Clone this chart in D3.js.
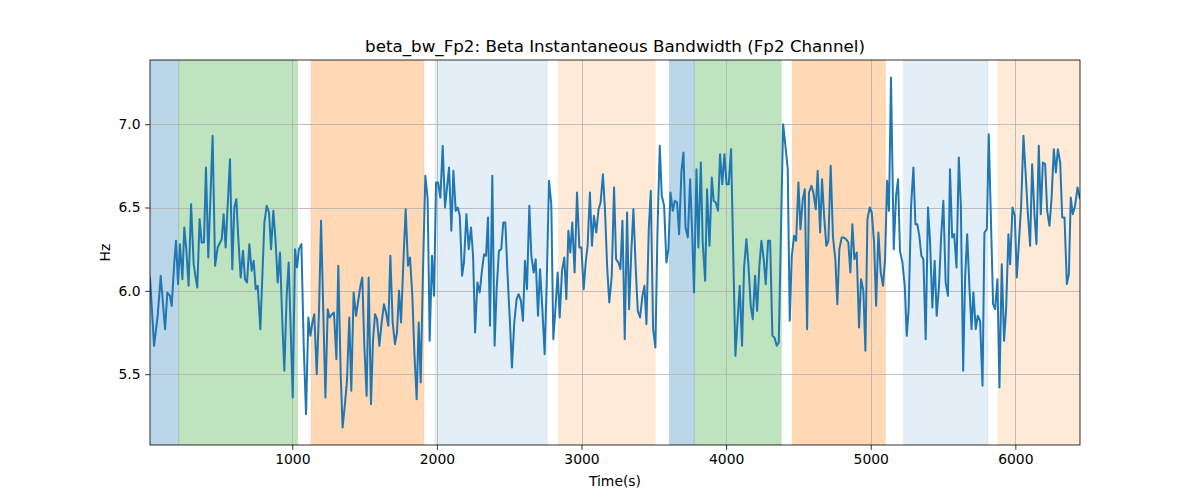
<!DOCTYPE html>
<html>
<head>
<meta charset="utf-8">
<script src="https://cdn.jsdelivr.net/npm/d3@7"></script>
<style>
  html, body { margin: 0; padding: 0; background: #fff; }
  svg { display: block; font-family: "DejaVu Sans", sans-serif; }
</style>
</head>
<body>
<svg id="chart" width="1200" height="500"></svg>
<script>
const times = [
  16,44,69,90,120,136,154,166,184,196,210,223,240,253,267,283,300,318,330,343,359,373,389,403,419,449,466,484,500,512,525,539,569,585,599,613,627,643,659,673,687,703,719,733,747,761,779,
  807,823,839,853,869,885,899,915,931,945,961,975,989,1003,1019,1033,1046,1063,1079,1095,1111,1125,1139,1152,1169,1185,1199,1215,1229,1245,1258,1275,1288,1305,1318,1335,1348,1365,1378,1394,1408,1424,1441,1454,1471,1484,1498,1514,1528,1544,1558,1572,
  1586,1602,1618,1634,1648,1664,1678,1694,1710,1724,1738,1752,1768,1784,1800,1814,1830,1844,1860,1874,1888,1904,1920,1936,1950,1966,1980,1994,2008,2024,2040,2056,2070,2084,2100,2114,2130,2144,2158,2174,2187,2204,2220,2236,2250,2264,2280,2296,2310,2326,2340,2353,2367,
  2383,2399,2413,2429,2445,2459,2473,2489,2505,2519,2535,2551,2565,2581,2595,2609,2623,2639,2653,2669,2683,2699,2713,2729,2745,2759,2775,2791,2805,2821,2835,2849,2865,2881,2895,2909,2922,2936,2952,2969,2985,2999,3015,3029,3042,3058,3072,3086,3102,3118,3132,3148,3162,3178,3192,
  3209,3225,3239,3255,3269,3283,3299,3315,3329,3345,3359,3375,3389,3405,3421,3435,3449,3465,3479,3495,3511,3525,3541,3555,3571,3587,3601,3615,3631,3645,3661,3675,3691,3705,3719,3735,3751,3765,3778,3795,3808,3825,3838,3855,3868,3885,3901,3914,3928,3944,
  3958,3973,3988,4003,4018,4034,4064,4094,4110,4124,4140,4154,4170,4184,4200,4214,4230,4244,4260,4274,4290,4304,4320,4334,4350,4364,4394,4410,4426,4440,4454,4470,4484,4500,4514,4530,4544,4560,4573,4590,4603,4620,4633,4650,4663,4679,4693,4707,4723,4739,4755,4769,
  4783,4799,4815,4829,4845,4859,4873,4887,4903,4919,4933,4949,4963,4977,4993,5007,5023,5037,5053,5069,5085,5099,5113,5126,5140,5159,5175,5189,5202,5219,5235,5249,5262,5279,5295,5309,5322,5336,5350,5364,5380,5396,5410,5426,5442,5456,5472,5486,5502,5518,5534,5548,
  5563,5577,5593,5609,5623,5639,5653,5667,5683,5697,5710,5726,5740,5756,5773,5786,5803,5816,5846,5860,5876,5890,5906,5922,5936,5952,5964,5980,5996,6010,6026,6040,6056,6072,6086,6102,6116,6132,6146,6162,6176,6190,6206,6220,6236,6250,6266,6280,6294,6310,6324,6340,6356,6370,6383,6397,6413,6430,6447
];
const bandwidth = [
  6.08,5.67,5.85,6.09,5.77,5.99,5.97,5.91,6.17,6.30,6.04,6.28,6.07,6.38,6.25,6.03,6.52,6.16,6.09,6.02,6.43,6.29,6.29,6.74,6.20,6.93,6.15,6.26,6.29,6.31,6.46,6.26,6.79,6.13,6.50,6.55,6.31,6.08,6.24,6.07,6.05,6.28,6.12,6.18,6.01,6.03,5.77,
  6.41,6.51,6.47,6.25,6.48,6.29,6.05,6.23,5.81,5.52,5.97,6.17,5.77,5.36,6.25,6.14,6.25,6.28,5.67,5.26,5.84,5.73,5.81,5.86,5.50,5.89,6.42,5.85,5.36,5.89,5.84,5.86,5.87,5.59,6.15,5.49,5.18,5.33,5.46,5.84,5.40,5.99,5.85,5.93,6.03,6.08,5.67,5.37,6.08,5.32,5.70,5.86,
  5.83,5.67,5.81,5.92,5.87,5.79,6.21,5.81,5.68,5.75,6.00,5.81,6.17,6.49,6.15,6.20,5.97,5.63,5.35,5.81,5.45,6.13,6.69,6.55,5.70,6.21,5.97,6.65,6.65,6.56,6.87,6.50,6.62,6.74,6.36,6.72,6.48,6.50,6.45,6.09,6.17,6.46,6.25,6.38,6.21,5.75,6.05,5.99,6.11,6.22,6.21,6.44,5.79,
  6.69,5.67,6.01,6.24,6.25,6.41,6.41,6.09,5.81,5.54,5.81,5.95,5.98,5.94,5.82,6.18,6.01,6.51,6.21,6.11,6.19,5.85,6.13,5.89,5.62,6.03,6.66,6.52,5.71,5.91,6.11,5.84,6.12,6.20,5.95,6.36,6.23,6.41,6.11,6.59,6.26,6.26,6.01,6.17,6.27,6.59,6.27,6.45,6.35,6.49,6.53,6.70,6.49,6.13,5.93,
  6.09,6.62,6.19,6.17,6.13,6.42,5.71,6.47,5.89,6.25,6.49,6.13,5.88,5.84,5.97,6.03,5.80,6.37,6.60,5.77,5.66,6.35,6.87,6.57,6.51,6.17,6.25,6.59,6.48,6.54,6.53,6.34,6.72,6.83,6.38,6.32,6.67,6.35,5.99,6.73,6.26,6.77,6.29,6.06,6.61,6.27,6.68,6.54,6.53,6.48,
  6.82,6.64,6.82,6.64,6.64,6.85,5.61,6.03,5.67,6.14,6.31,6.16,5.91,5.83,6.09,5.88,6.15,6.30,6.19,6.04,6.30,6.30,5.73,5.72,5.67,5.69,7.00,6.87,6.73,5.82,6.21,6.33,6.30,6.65,6.37,6.55,6.61,5.77,6.59,6.63,6.59,6.49,6.72,6.35,6.67,6.43,6.27,6.30,6.75,6.32,6.19,5.92,
  6.25,6.32,6.32,6.31,6.29,6.11,6.40,6.19,6.23,5.78,6.07,6.00,5.64,6.43,6.50,6.47,6.29,5.91,6.35,6.11,6.03,6.19,6.66,6.48,7.28,6.25,6.57,6.67,6.24,6.17,6.03,5.73,5.89,6.51,6.74,6.40,6.40,6.33,6.21,6.19,5.71,6.50,6.30,5.90,6.18,5.85,6.03,6.31,6.54,6.05,5.97,6.73,
  6.32,6.34,6.14,6.80,6.51,5.52,6.09,6.34,6.01,5.77,5.99,5.77,5.85,5.82,5.43,6.35,6.37,6.94,5.92,5.89,6.07,5.42,6.16,5.70,5.89,6.34,6.16,6.50,6.45,6.08,6.31,6.51,6.93,6.69,6.47,6.27,6.76,6.46,6.28,6.87,6.46,6.77,6.76,6.48,6.39,6.55,6.85,6.71,6.85,6.77,6.44,6.44,6.04,6.10,6.56,6.46,6.51,6.62,6.55
];

// shaded segments
const spanStarts = [16, 214, 1129, 1987, 2839, 3607, 3780, 4458, 5226, 5880];
const spanEnds   = [214, 1037, 1911, 2763, 3510, 3780, 4382, 5102, 5811, 6447];
const spanKinds  = ["A", "B", "C", "D", "E", "A", "B", "C", "D", "E"];

const xTicks = [1000, 2000, 3000, 4000, 5000, 6000];
const yTicks = [5.5, 6.0, 6.5, 7.0];

const titleText = "beta_bw_Fp2: Beta Instantaneous Bandwidth (Fp2 Channel)";
const xLabel = "Time(s)";
const yLabel = "Hz";

// styles
const kindFill = {
  A: "rgba(31,119,180,0.3)",
  B: "rgba(44,160,44,0.3)",
  C: "rgba(255,127,14,0.3)",
  D: "rgba(31,119,180,0.12)",
  E: "rgba(255,127,14,0.16)"
};
const kindEdge = {
  A: "rgba(31,119,180,0.12)",
  B: "rgba(44,160,44,0.12)",
  C: "rgba(255,127,14,0.12)",
  D: "rgba(31,119,180,0.06)",
  E: "rgba(255,127,14,0.07)"
};

const W = 1200, H = 500;
const margin = { left: 150, right: 120, top: 60, bottom: 55 };
const iw = W - margin.left - margin.right;
const ih = H - margin.top - margin.bottom;

const data = times.map((t, i) => ({ t, v: bandwidth[i] })).filter(d => d.v !== undefined);

const vmin = d3.min(bandwidth), vmax = d3.max(bandwidth);
const pad = (vmax - vmin) * 0.05;

const x = d3.scaleLinear().domain([d3.min(times), d3.max(times)]).range([0, iw]);
const y = d3.scaleLinear().domain([vmin - pad, vmax + pad]).range([ih, 0]);

const svg = d3.select("#chart");
svg.append("rect").attr("width", W).attr("height", H).attr("fill", "#fff");

svg.append("defs").append("clipPath").attr("id", "clip")
  .append("rect").attr("width", iw).attr("height", ih);

const g = svg.append("g").attr("transform", `translate(${margin.left},${margin.top})`);

// spans
const spans = spanStarts.map((s, i) => ({ s, e: spanEnds[i], k: spanKinds[i] }));
g.append("g").attr("clip-path", "url(#clip)")
  .selectAll("rect").data(spans).join("rect")
  .attr("x", d => x(d.s))
  .attr("y", 0)
  .attr("width", d => x(d.e) - x(d.s))
  .attr("height", ih)
  .attr("fill", d => kindFill[d.k])
  .attr("stroke", d => kindEdge[d.k])
  .attr("stroke-width", 1);

// grid
const grid = g.append("g");
grid.selectAll("line.gx").data(xTicks).join("line")
  .attr("x1", d => Math.round(x(d)) + 0.5).attr("x2", d => Math.round(x(d)) + 0.5)
  .attr("y1", 0).attr("y2", ih)
  .attr("stroke", "#b0b0b0").attr("stroke-width", 0.8);
grid.selectAll("line.gy").data(yTicks).join("line")
  .attr("y1", d => Math.round(y(d)) + 0.5).attr("y2", d => Math.round(y(d)) + 0.5)
  .attr("x1", 0).attr("x2", iw)
  .attr("stroke", "#b0b0b0").attr("stroke-width", 0.8);

// line
const line = d3.line().x(d => x(d.t)).y(d => y(d.v));
g.append("path").datum(data)
  .attr("clip-path", "url(#clip)")
  .attr("fill", "none")
  .attr("stroke", "#1f77b4")
  .attr("stroke-width", 2)
  .attr("stroke-linejoin", "round")
  .attr("stroke-linecap", "butt")
  .attr("d", line);

// axes
const xAxis = d3.axisBottom(x).tickValues(xTicks).tickFormat(d3.format("d")).tickSizeOuter(0).tickSize(4.9).tickPadding(4.5);
const yAxis = d3.axisLeft(y).tickValues(yTicks).tickFormat(d3.format(".1f")).tickSizeOuter(0).tickSize(4.9).tickPadding(4.5);

const gx = g.append("g").attr("transform", `translate(0,${ih})`).call(xAxis);
const gy = g.append("g").call(yAxis);
[gx, gy].forEach(a => {
  a.select(".domain").remove();
  a.selectAll("line").attr("stroke", "#000").attr("stroke-width", 0.8);
  a.selectAll("text").attr("fill", "#000").style("font-size", "13.9px").style("font-family", "DejaVu Sans");
});

// frame
g.append("rect").attr("x", 0).attr("y", 0).attr("width", iw).attr("height", ih)
  .attr("fill", "none").attr("stroke", "#000").attr("stroke-width", 0.8);

// title & labels
svg.append("text").attr("x", margin.left + iw / 2).attr("y", 52)
  .attr("text-anchor", "middle").style("font-size", "16.7px").attr("fill", "#000")
  .text(titleText);
svg.append("text").attr("x", margin.left + iw / 2).attr("y", 486)
  .attr("text-anchor", "middle").style("font-size", "13.9px").attr("fill", "#000")
  .text(xLabel);
svg.append("text").attr("transform", `translate(110,${margin.top + ih / 2}) rotate(-90)`)
  .attr("text-anchor", "middle").style("font-size", "13.9px").attr("fill", "#000")
  .text(yLabel);
</script>
</body>
</html>
